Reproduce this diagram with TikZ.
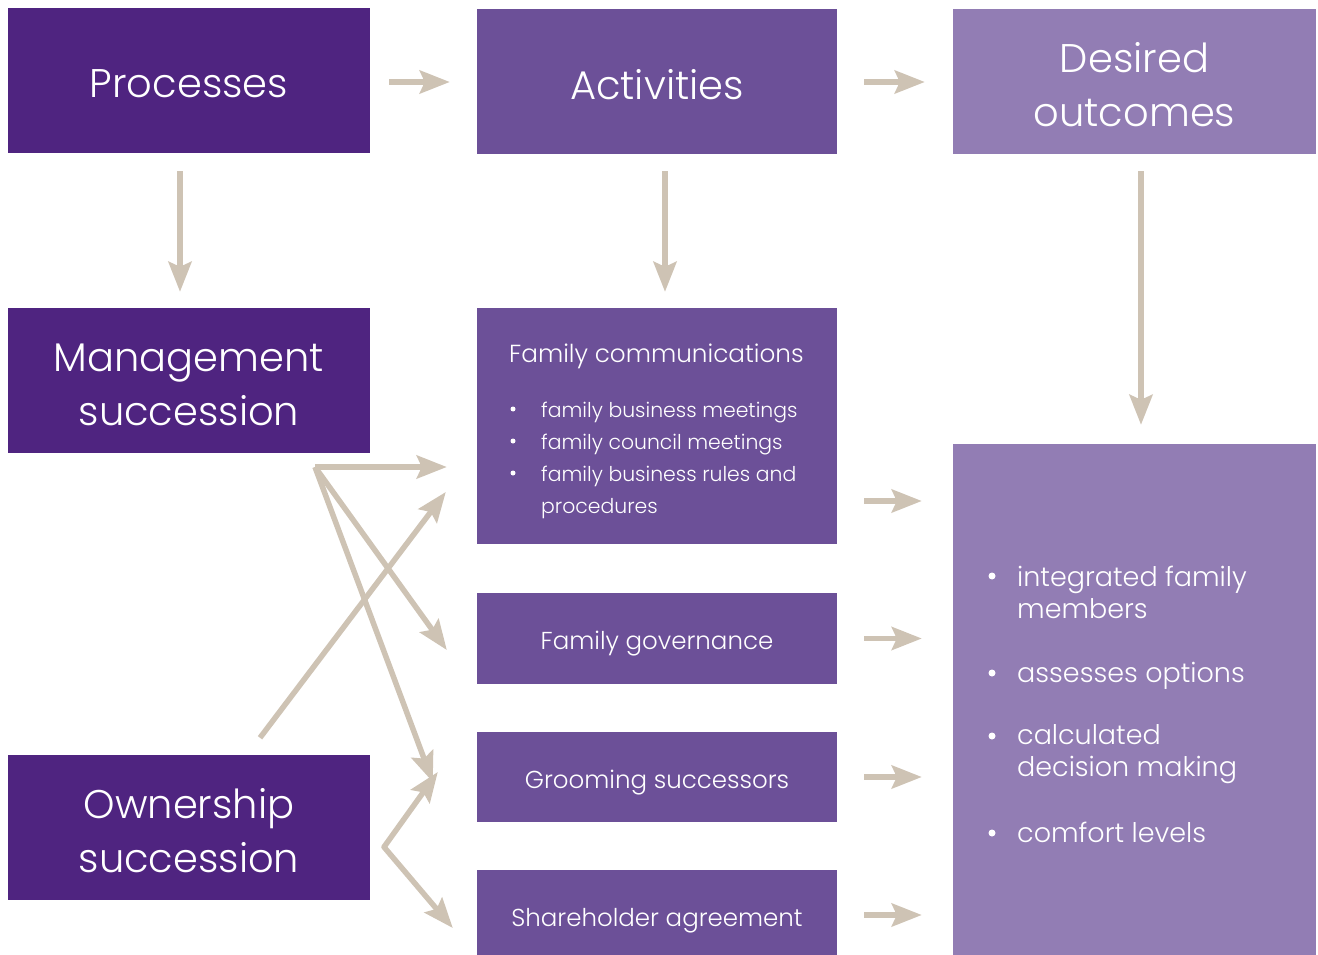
\documentclass[tikz,border=0pt]{standalone}
\usepackage{fontspec}
\IfFontExistsTF{Poppins Light}{\setmainfont{Poppins Light}}{\setmainfont{Poppins}}
\usetikzlibrary{arrows.meta}

\definecolor{procpurple}{HTML}{4F2480}
\definecolor{actpurple}{HTML}{6C5098}
\definecolor{outpurple}{HTML}{927DB4}
\definecolor{arrowtan}{HTML}{CEC3B4}

\begin{document}
\begin{tikzpicture}[x=1pt,y=-1pt,
  panel/.style={rectangle,inner sep=0pt},
  title/.style={inner sep=0pt,text=white,align=center,font=\fontsize{40}{54}\selectfont},
  label/.style={inner sep=0pt,text=white,font=\fontsize{24.5}{32}\selectfont,text depth=0pt},
  txt/.style={inner sep=0pt,anchor=base west,text=white},
  small/.style={txt,font=\fontsize{20.4}{32}\selectfont},
  big/.style={txt,font=\fontsize{27}{32}\selectfont},
  dot/.style={circle,fill=white,inner sep=0pt,minimum size=#1},
  tip/.tip={Stealth[length=30pt,width=23pt,inset=5pt]},
  flow/.style={draw=arrowtan,line width=5.5pt,line join=round,-tip},
  twoway/.style={flow,tip-tip}]

\useasboundingbox (0,0) rectangle (1318,955);

% column headers
\node[panel,fill=procpurple,minimum width=362pt,minimum height=145pt] (proc) at (189,80.5) {};
\node[panel,fill=actpurple,minimum width=360pt,minimum height=145pt] (act) at (657,81.5) {};
\node[panel,fill=outpurple,minimum width=363pt,minimum height=145pt] (des) at (1134.5,81.5) {};
\node[title] (proct) at ([yshift=-3pt]proc.center) {Processes};
\node[title] (actt) at ([yshift=-3pt]act.center) {Activities};
\node[title] (dest) at ([yshift=-3pt]des.center) {Desired\\outcomes};

% processes
\node[panel,fill=procpurple,minimum width=362pt,minimum height=145pt] (mgmt) at (189,380.5) {};
\node[panel,fill=procpurple,minimum width=362pt,minimum height=145pt] (own) at (189,827.5) {};
\node[title] (mgmtt) at ([yshift=-4pt]mgmt.center) {Management\\succession};
\node[title] (ownt) at ([yshift=-3pt]own.center) {Ownership\\succession};

% activities
\node[panel,fill=actpurple,minimum width=360pt,minimum height=236pt] (comm) at (657,426) {};
\node[panel,fill=actpurple,minimum width=360pt,minimum height=91pt] (gov) at (657,638.5) {};
\node[panel,fill=actpurple,minimum width=360pt,minimum height=90pt] (groom) at (657,777) {};
\node[panel,fill=actpurple,minimum width=360pt,minimum height=85pt] (share) at (657,912.5) {};
\node[label] (govt) at ([yshift=-2pt]gov.center) {Family governance};
\node[label] (groomt) at ([yshift=-2.5pt]groom.center) {Grooming successors};
\node[label] (sharet) at ([yshift=-5pt]share.center) {Shareholder agreement};

% outcomes
\node[panel,fill=outpurple,minimum width=363pt,minimum height=511pt] (outc) at (1134.5,699.5) {};

% family communications contents
\node[txt,font=\fontsize{24.7}{32}\selectfont] (fchead) at (509,362) {Family communications};
\node[dot=5pt] (fcb1) at (513,409) {};
\node[small] (fct1) at (541,417) {family business meetings};
\node[dot=5pt] (fcb2) at (513,441) {};
\node[small] (fct2) at (541,449) {family council meetings};
\node[dot=5pt] (fcb3) at (513,473) {};
\node[small] (fct3) at (541,481) {family business rules and};
\node[small] (fct4) at (541,513) {procedures};

% outcome list
\node[dot=7pt] (ob1) at (992,576) {};
\node[big] (ot1) at (1017,586) {integrated family};
\node[big] (ot1b) at (1017,618) {members};
\node[dot=7pt] (ob2) at (992,673) {};
\node[big] (ot2) at (1017,682) {assesses options};
\node[dot=7pt] (ob3) at (992,736) {};
\node[big] (ot3) at (1017,744) {calculated};
\node[big] (ot3b) at (1017,776) {decision making};
\node[dot=7pt] (ob4) at (992,833) {};
\node[big] (ot4) at (1017,842) {comfort levels};

% header flow
\draw[flow] ([xshift=19pt,yshift=-1.5pt]proc.east) -- ([xshift=-27pt,yshift=-0.5pt]act.west);
\draw[flow] ([xshift=27pt,yshift=-0.5pt]act.east) -- ([xshift=-28pt,yshift=-0.5pt]des.west);
\draw[flow] ([xshift=-9pt,yshift=-18pt]proc.south) -- ([xshift=-9pt,yshift=16pt]mgmt.north);
\draw[flow] ([xshift=8pt,yshift=-17pt]act.south) -- ([xshift=8pt,yshift=16pt]comm.north);
\draw[flow] ([xshift=6.5pt,yshift=-17pt]des.south) -- ([xshift=6.5pt,yshift=19pt]outc.north);

% process to activity links
\coordinate (mfork) at (315,467);
\coordinate (ofork) at (384,847);
\draw[flow] (mfork) -- ([xshift=-30pt]comm.west |- mfork);
\draw[flow] (mfork) -- ([xshift=-30pt,yshift=-11.5pt]gov.west);
\draw[flow] (mfork) -- ([xshift=-44pt,yshift=-5pt]groom.west);
\draw[flow] ([xshift=71pt,yshift=17pt]own.north) -- ([xshift=-31pt,yshift=-66pt]comm.west);
\draw[twoway] ([xshift=-39pt,yshift=5pt]groom.west) -- (ofork) -- ([xshift=-24pt,yshift=-15.5pt]share.west);

% activity to outcome links
\coordinate (commout) at (864,501);
\draw[flow] (commout) -- ([xshift=-31pt]outc.west |- commout);
\draw[flow] ([xshift=27pt]gov.east) -- ([xshift=-31pt]outc.west |- gov.east);
\draw[flow] ([xshift=27pt]groom.east) -- ([xshift=-31pt]outc.west |- groom.east);
\draw[flow] ([xshift=27pt,yshift=-2.5pt]share.east) -- ([xshift=-31pt,yshift=-2.5pt]outc.west |- share.east);
\end{tikzpicture}
\end{document}
